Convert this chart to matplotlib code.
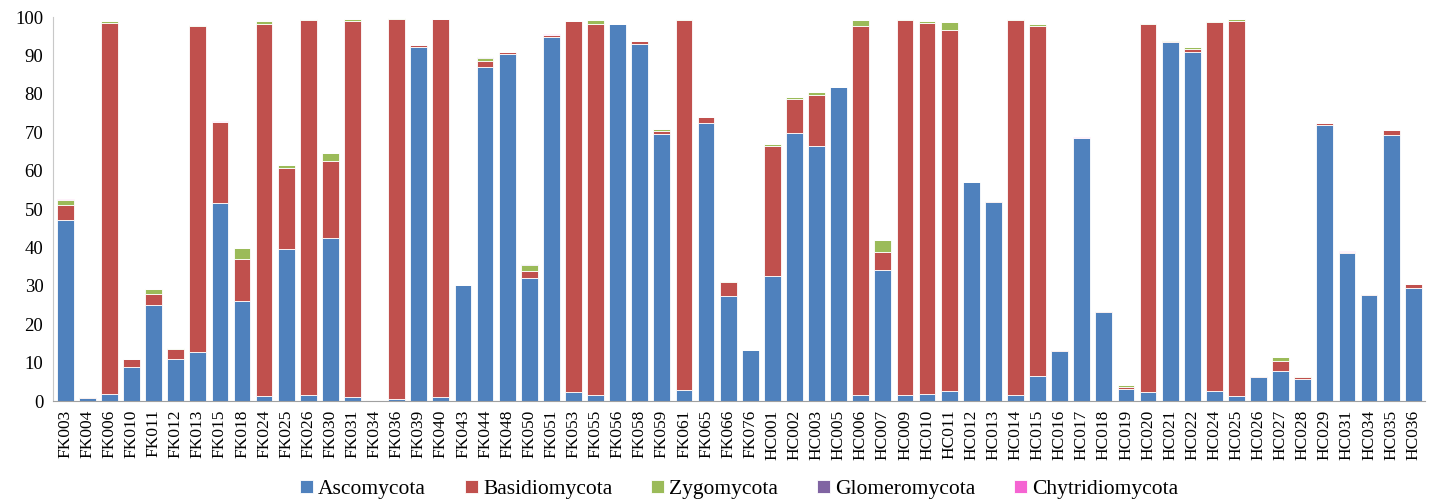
import numpy as np
import matplotlib
matplotlib.use("Agg")
from matplotlib import pyplot as plt

plt.rcParams['font.family'] = ['Liberation Serif', 'DejaVu Serif']

samples = ["FK003", "FK004", "FK006", "FK010", "FK011", "FK012", "FK013", "FK015",
           "FK018", "FK024", "FK025", "FK026", "FK030", "FK031", "FK034", "FK036",
           "FK039", "FK040", "FK043", "FK044", "FK048", "FK050", "FK051", "FK053",
           "FK055", "FK056", "FK058", "FK059", "FK061", "FK065", "FK066", "FK076",
           "HC001", "HC002", "HC003", "HC005", "HC006", "HC007", "HC009", "HC010",
           "HC011", "HC012", "HC013", "HC014", "HC015", "HC016", "HC017", "HC018",
           "HC019", "HC020", "HC021", "HC022", "HC024", "HC025", "HC026", "HC027",
           "HC028", "HC029", "HC031", "HC034", "HC035", "HC036"]

ascomycota = [47.3, 0.7, 1.8, 9.0, 25.0, 11.1, 12.7, 51.7,
              26.2, 1.4, 39.6, 1.7, 42.6, 1.2, 0.35, 0.5,
              92.3, 1.2, 30.3, 87.1, 90.3, 32.2, 94.9, 2.3,
              1.7, 98.3, 92.9, 69.5, 2.9, 72.4, 27.4, 13.2,
              32.5, 69.9, 66.5, 81.7, 1.6, 34.2, 1.5, 2.0,
              2.7, 57.0, 51.8, 1.5, 6.6, 13.1, 68.6, 23.3,
              3.3, 2.3, 93.5, 91.0, 2.6, 1.4, 6.3, 7.8,
              5.8, 71.8, 38.6, 27.7, 69.3, 29.5]

basidiomycota = [3.7, 0.3, 96.6, 2.1, 2.8, 2.4, 84.9, 21.1,
                 10.9, 96.7, 21.2, 97.5, 19.9, 97.7, 0.0, 98.9,
                 0.5, 98.4, 0.0, 1.6, 0.5, 1.7, 0.5, 96.7,
                 96.6, 0.0, 0.9, 0.8, 96.3, 1.7, 3.7, 0.0,
                 33.9, 8.9, 13.2, 0.0, 96.1, 4.7, 97.8, 96.4,
                 94.0, 0.0, 0.4, 97.7, 91.2, 0.2, 0.0, 0.3,
                 0.4, 95.8, 0.2, 0.6, 96.1, 97.6, 0.2, 2.7,
                 0.5, 0.6, 0.3, 0.3, 1.2, 0.9]

zygomycota = [1.5, 0.0, 0.5, 0.0, 1.3, 0.3, 0.4, 0.0,
              2.8, 0.8, 0.7, 0.3, 2.1, 0.7, 0.0, 0.4,
              0.0, 0.0, 0.0, 0.6, 0.0, 1.5, 0.0, 0.1,
              0.9, 0.0, 0.0, 0.6, 0.3, 0.0, 0.3, 0.2,
              0.6, 0.3, 0.7, 0.0, 1.5, 3.0, 0.3, 0.6,
              2.0, 0.0, 0.0, 0.4, 0.5, 0.0, 0.0, 0.0,
              0.6, 0.4, 0.3, 0.6, 0.3, 0.6, 0.0, 1.1,
              0.3, 0.0, 0.0, 0.0, 0.0, 0.0]

glomeromycota = [0.0] * 62
glomeromycota[19] = 0.2
glomeromycota[21] = 0.2

chytridiomycota = [0.1, 0.0, 0.0, 0.0, 0.1, 0.0, 0.0, 0.1,
                   0.0, 0.0, 0.1, 0.0, 0.0, 0.0, 0.0, 0.0,
                   0.0, 0.0, 0.0, 0.2, 0.0, 0.2, 0.1, 0.0,
                   0.0, 0.0, 0.0, 0.1, 0.0, 0.0, 0.0, 0.0,
                   0.0, 0.0, 0.0, 0.2, 0.0, 0.1, 0.0, 0.0,
                   0.0, 0.1, 0.0, 0.0, 0.0, 0.0, 0.3, 0.0,
                   0.0, 0.0, 0.0, 0.0, 0.0, 0.0, 0.0, 0.0,
                   0.0, 0.0, 0.3, 0.0, 0.0, 0.0]

series = [("Ascomycota", ascomycota, "#4F81BD"),
          ("Basidiomycota", basidiomycota, "#C0504D"),
          ("Zygomycota", zygomycota, "#9BBB59"),
          ("Glomeromycota", glomeromycota, "#8064A2"),
          ("Chytridiomycota", chytridiomycota, "#F564D2")]

fig = plt.figure(figsize=(14.34, 5.04), dpi=100)
ax = fig.add_axes([0.037, 0.204, 0.957, 0.762])

x = np.arange(len(samples))
bottom = np.zeros(len(samples))
for name, vals, col in series:
    vals = np.array(vals)
    ax.bar(x, vals, 0.76, bottom=bottom, color=col, label=name,
           edgecolor="white", linewidth=0.6)
    bottom += vals

ax.set_xlim(-0.55, len(samples) - 0.45)
ax.set_ylim(0, 100)
ax.set_yticks(np.arange(0, 101, 10))
ax.set_xticks(x)
ax.set_xticklabels(samples, rotation=90, fontsize=12.5)
ax.tick_params(axis='y', labelsize=13.5, length=0, pad=7)
ax.tick_params(axis='x', length=0, pad=6)

for s in ("top", "right"):
    ax.spines[s].set_visible(False)
ax.spines["left"].set_color("#C8C8C8")
ax.spines["bottom"].set_color("#A0A0A0")

ax.legend(loc="lower center", bbox_to_anchor=(0.5, -0.305), ncol=5, frameon=False,
          fontsize=15.5, handlelength=0.6, handleheight=0.6, handletextpad=0.25,
          columnspacing=1.8)

fig.savefig("out.png", dpi=100)
